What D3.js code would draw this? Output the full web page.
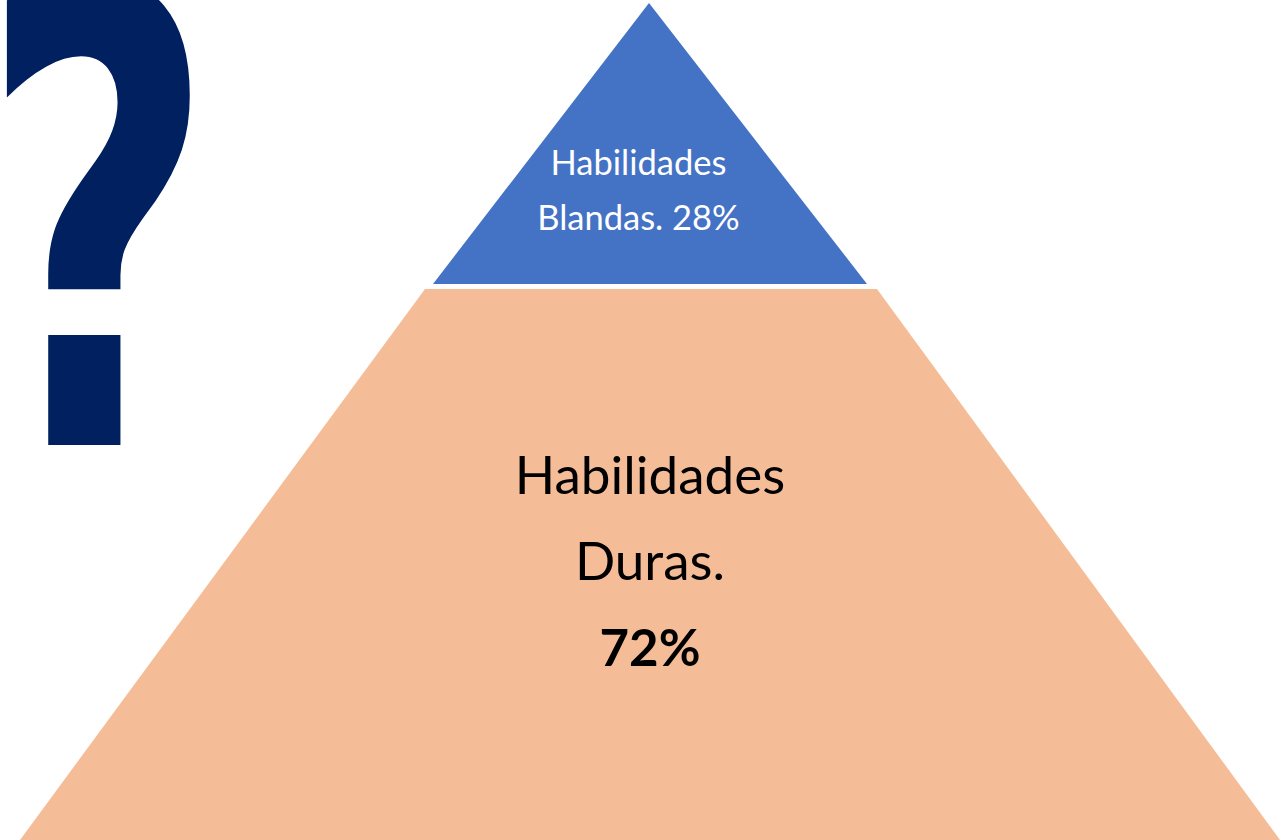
<!DOCTYPE html>
<html>
<head>
<meta charset="utf-8">
<script src="https://cdn.jsdelivr.net/npm/d3@7"></script>
<style>
  body { margin: 0; background: #fff; }
  svg { display: block; }
</style>
</head>
<body>
<div id="chart"></div>
<script>
// data: pyramid layers, top to bottom
var layers = ["Habilidades Blandas", "Habilidades Duras"];
var shares = [28, 72];
var layerLines = [
  ["Habilidades", "Blandas. 28%"],
  ["Habilidades", "Duras.", "72%"]
];
var layerColors = ["#4472C4", "#F5BC98"];
var markText = "?";

var width = 1283, height = 840;

var svg = d3.select("#chart")
  .append("svg")
    .attr("width", width)
    .attr("height", height);

// y goes over the pyramid height
var y = d3.scaleLinear().domain([0, 1]).range([3, 840]);
var cx = 650;

// split point between the two layers (smartart style, not proportional)
var split = 0.3357;
var gap = 5;

// top triangle
var topPts = [
  [cx - 1, y(0)],
  [cx + 217, y(split)],
  [cx - 217, y(split)]
];
// bottom trapezoid
var botPts = [
  [cx - 225, y(split) + gap],
  [cx + 227, y(split) + gap],
  [1280, y(1)],
  [20, y(1)]
];

var line = d3.line();

svg.append("path")
  .attr("d", line(botPts) + "Z")
  .attr("fill", layerColors[1]);

svg.append("path")
  .attr("d", line(topPts) + "Z")
  .attr("fill", layerColors[0]);

// labels
var font = "Lato, 'Open Sans', sans-serif";

var topLabel = svg.append("text")
  .attr("text-anchor", "middle")
  .attr("font-family", font)
  .attr("font-size", 34.5)
  .attr("fill", "#fff");
topLabel.selectAll("tspan")
  .data(layerLines[0])
  .enter().append("tspan")
    .attr("x", 638.5)
    .attr("y", (d, i) => 175 + i * 55)
    .text(d => d);

var botLabel = svg.append("text")
  .attr("text-anchor", "middle")
  .attr("font-family", font)
  .attr("fill", "#000");
botLabel.selectAll("tspan")
  .data(layerLines[1])
  .enter().append("tspan")
    .attr("x", 650)
    .attr("y", (d, i) => 494 + i * 86)
    .attr("font-size", (d, i) => i == 2 ? 51 : 53)
    .attr("font-weight", (d, i) => i == 2 ? "bold" : "normal")
    .text(d => d);

// big question mark, fitted to its box using canvas ink metrics
var qFamily = "'DejaVu Sans Condensed', 'DejaVu Sans', sans-serif";
var ctx = document.createElement("canvas").getContext("2d");
ctx.font = "bold 400px " + qFamily;
var m = ctx.measureText(markText);
var inkW = m.actualBoundingBoxLeft + m.actualBoundingBoxRight;
var inkH = m.actualBoundingBoxAscent + m.actualBoundingBoxDescent;
var box = { x0: 0, x1: 192, y0: -30, y1: 445 };
var sx = (box.x1 - box.x0) / inkW;
var sy = (box.y1 - box.y0) / inkH;

svg.append("text")
  .attr("font-family", qFamily)
  .attr("font-weight", "bold")
  .attr("font-size", 400)
  .attr("fill", "#002060")
  .attr("transform", "translate(" + (box.x0 + m.actualBoundingBoxLeft * sx) + "," +
        (box.y0 + m.actualBoundingBoxAscent * sy) + ") scale(" + sx + "," + sy + ")")
  .text(markText);
</script>
</body>
</html>
